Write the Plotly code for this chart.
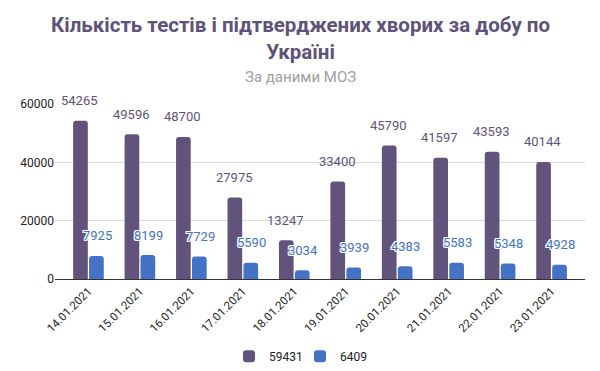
import plotly.graph_objects as go

dates = ["14.01.2021", "15.01.2021", "16.01.2021", "17.01.2021", "18.01.2021",
         "19.01.2021", "20.01.2021", "21.01.2021", "22.01.2021", "23.01.2021"]
tests = [54265, 49596, 48700, 27975, 13247, 33400, 45790, 41597, 43593, 40144]
cases = [7925, 8199, 7729, 5590, 3034, 3939, 4383, 5583, 5348, 4928]
series_names = ["59431", "6409"]
y_ticks = [0, 20000, 40000, 60000]

PURPLE = "#62537d"
BLUE = "#4472c4"
FONT = "Roboto"
CENTER_X = (300 - 55) / 530  # horizontal centre of the page, in plot-paper units

fig = go.Figure()
fig.add_trace(go.Bar(x=list(range(len(dates))), y=tests, name=series_names[0],
                     marker=dict(color=PURPLE, line_width=0)))
fig.add_trace(go.Bar(x=list(range(len(dates))), y=cases, name=series_names[1],
                     marker=dict(color=BLUE, line_width=0)))

halo = ("1px 0 0 #fff, -1px 0 0 #fff, 0 1px 0 #fff, 0 -1px 0 #fff, "
        "1px 1px 0 #fff, -1px -1px 0 #fff, 1px -1px 0 #fff, -1px 1px 0 #fff")
ann = []
for i, v in enumerate(tests):
    ann.append(dict(x=i, y=v, xref="x", yref="y", text=str(v), showarrow=False,
                    xshift=-8.7, yshift=20, yanchor="middle",
                    font=dict(family=FONT, size=13, color="#5e5378")))
for i, v in enumerate(cases):
    ann.append(dict(x=i, y=v, xref="x", yref="y", text=str(v), showarrow=False,
                    xshift=8.7, yshift=20, yanchor="middle",
                    font=dict(family=FONT, size=13, color=BLUE, shadow=halo)))
ann.append(dict(x=CENTER_X, y=1, xref="paper", yref="paper", yshift=27, yanchor="middle",
                text="За даними МОЗ",
                showarrow=False, font=dict(family=FONT, size=15, color="#9e9e9e")))
ann.append(dict(x=CENTER_X, y=1, xref="paper", yref="paper", yshift=66, yanchor="middle",
                text="<b>Кількість тестів і підтверджених хворих за добу по<br>Україні</b>",
                showarrow=False,
                font=dict(family=FONT, size=20.5, color="#5e5378")))

fig.update_layout(
    width=600, height=371,
    margin=dict(l=55, r=15, t=104, b=92),
    paper_bgcolor="white", plot_bgcolor="white",
    barmode="group", bargap=0.38, bargroupgap=0.08, barcornerradius=3,
    xaxis=dict(range=[-0.65, 9.65], tickmode="array", tickvals=list(range(len(dates))),
               ticktext=dates, tickangle=-45, showgrid=False, showline=True,
               linecolor="#333", linewidth=1, ticks="", automargin=False,
               tickfont=dict(family=FONT, size=11.5, color="#222")),
    yaxis=dict(range=[0, 60000], tickvals=y_ticks, tickformat="d", showgrid=True,
               gridcolor="#d9d9d9", zeroline=False, showline=False, ticks="",
               automargin=False,
               tickfont=dict(family=FONT, size=12, color="#222")),
    legend=dict(orientation="h", x=0.5, xref="container", xanchor="center",
                y=0.04, yref="container", yanchor="middle",
                entrywidth=26, entrywidthmode="pixels",
                font=dict(family=FONT, size=12, color="#222")),
    annotations=ann,
    showlegend=True,
)

fig.write_html("out.html", post_script="document.body.style.margin='0';",
               config={"displayModeBar": False})
